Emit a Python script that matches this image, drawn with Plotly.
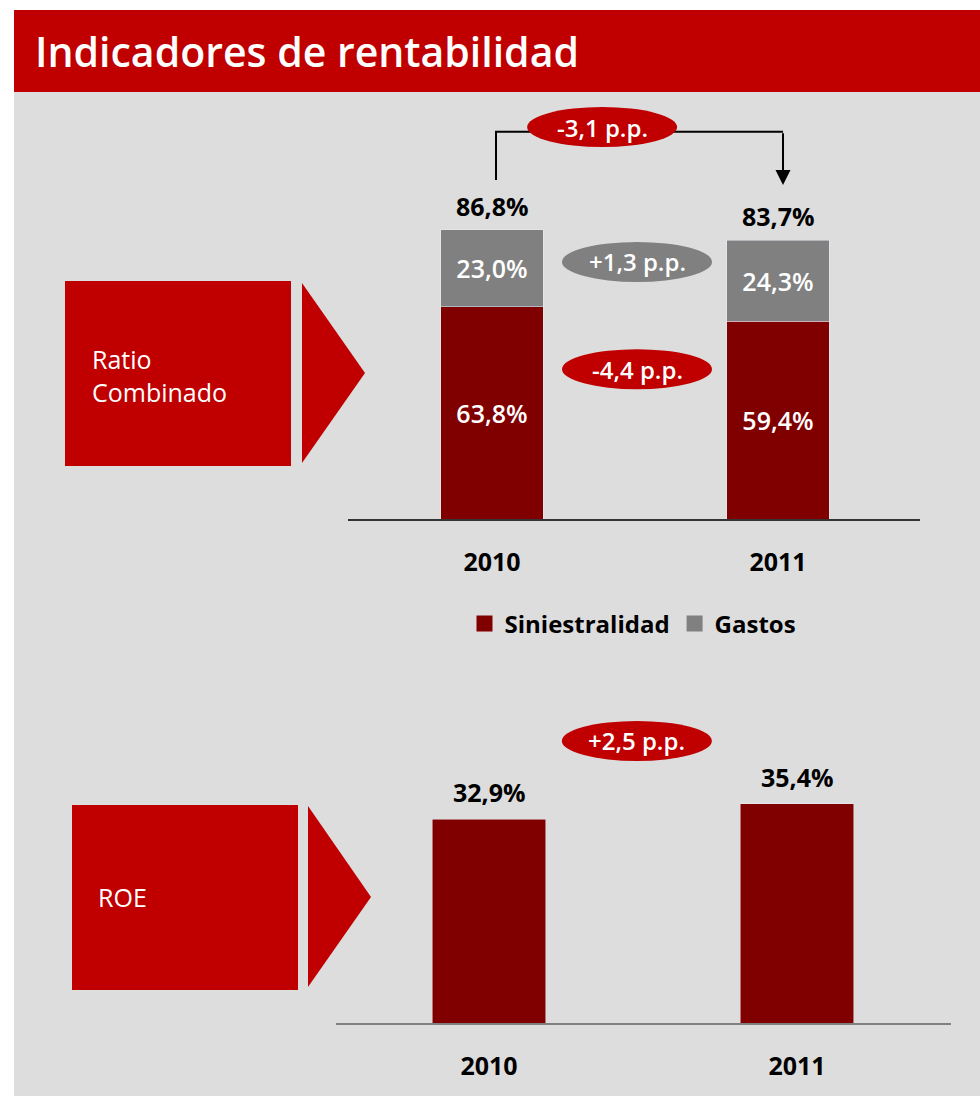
import plotly.graph_objects as go

# ---------------- data ----------------
years = ["2010", "2011"]
siniestralidad = [63.8, 59.4]
gastos = [23.0, 24.3]
roe = [32.9, 35.4]
series_names = ["Siniestralidad", "Gastos"]
title_text = "Indicadores de rentabilidad"
box_labels = ["Ratio<br>Combinado", "ROE"]

# ---------------- style ----------------
W, H = 980, 1096
RED = "#C00000"
DARK = "#800000"
GRAY = "#808080"
PANEL = "#DDDDDD"
FONT = "Open Sans"


def fmt(v, signed=False):
    s = f"{v:+.1f}" if signed else f"{v:.1f}"
    return s.replace(".", ",")


def px(x):
    return x / W


def py(y):
    return 1 - y / H


combined = [a + b for a, b in zip(siniestralidad, gastos)]
d_comb = combined[1] - combined[0]
d_gas = gastos[1] - gastos[0]
d_sin = siniestralidad[1] - siniestralidad[0]
d_roe = roe[1] - roe[0]

fig = go.Figure()

inner_font = dict(color="white", size=25, family=FONT, weight=600)

fig.add_bar(x=years, y=siniestralidad, name=series_names[0], marker_color=DARK,
            width=0.357, text=[fmt(v) + "%" for v in siniestralidad],
            textposition="inside", insidetextanchor="middle", textangle=0,
            textfont=inner_font, xaxis="x", yaxis="y", showlegend=False,
            hoverinfo="skip")
fig.add_bar(x=years, y=gastos, name=series_names[1], marker_color=GRAY,
            width=0.357, text=[fmt(v) + "%" for v in gastos],
            textposition="inside", insidetextanchor="middle", textangle=0,
            textfont=inner_font, xaxis="x", yaxis="y", showlegend=False,
            hoverinfo="skip")
fig.add_bar(x=years, y=roe, name="ROE", marker_color=DARK, width=0.37,
            xaxis="x2", yaxis="y2", showlegend=False, hoverinfo="skip")

# legend entries (square markers)
for nm, col in zip(series_names, [DARK, GRAY]):
    fig.add_scatter(x=[None], y=[None], mode="markers", name=nm,
                    marker=dict(symbol="square", size=16, color=col),
                    xaxis="x", yaxis="y", hoverinfo="skip")

shapes = [
    # panel + header
    dict(type="rect", xref="paper", yref="paper", x0=px(14), x1=1, y0=0, y1=py(92),
         fillcolor=PANEL, line_width=0, layer="below"),
    dict(type="rect", xref="paper", yref="paper", x0=px(14), x1=1, y0=py(92), y1=py(10),
         fillcolor=RED, line_width=0, layer="below"),
    # left boxes
    dict(type="rect", xref="paper", yref="paper", x0=px(65), x1=px(291), y0=py(466), y1=py(281),
         fillcolor=RED, line_width=0),
    dict(type="path", xref="paper", yref="paper",
         path=f"M{px(302)},{py(283)} L{px(365)},{py(373)} L{px(302)},{py(463)} Z",
         fillcolor=RED, line_width=0),
    dict(type="rect", xref="paper", yref="paper", x0=px(72), x1=px(298), y0=py(990), y1=py(805),
         fillcolor=RED, line_width=0),
    dict(type="path", xref="paper", yref="paper",
         path=f"M{px(308)},{py(806)} L{px(371)},{py(897)} L{px(308)},{py(987)} Z",
         fillcolor=RED, line_width=0),
]

# bracket between totals (data coordinates of axis 1)
xl, xr, ytop = 0.014, 1.0175, 116.3
shapes.append(dict(type="path", xref="x", yref="y",
                   path=f"M{xl},{combined[0] + 15} L{xl},{ytop} L{xr},{ytop}",
                   line=dict(color="black", width=2)))

# badges (ellipses)
badges = [
    ("x", "y", 0.385, 117.7, RED, fmt(d_comb) + " p.p."),
    ("x", "y", 0.507, 77.2, GRAY, fmt(d_gas, True) + " p.p."),
    ("x", "y", 0.507, 45.0, RED, fmt(d_sin) + " p.p."),
    ("x2", "y2", 0.48, 45.5, RED, fmt(d_roe, True) + " p.p."),
]
annotations = []
for xr_, yr_, xa, ya, col, txt in badges:
    shapes.append(dict(type="circle", xref=xr_, yref=yr_, xsizemode="pixel",
                       ysizemode="pixel", xanchor=xa, yanchor=ya, x0=-75, x1=75,
                       y0=-20, y1=20, fillcolor=col, line_width=0))
    annotations.append(dict(x=xa, y=ya, xref=xr_, yref=yr_, text=txt, showarrow=False,
                            font=dict(color="white", size=24, family=FONT, weight=600)))

# arrow down to 2011 total
annotations.append(dict(x=xr, y=combined[1] + 16.6, xref="x", yref="y", ax=xr, ay=ytop,
                        axref="x", ayref="y", text="", showarrow=True, arrowhead=2,
                        arrowsize=1.5, arrowwidth=2, arrowcolor="black", standoff=0))

# totals
lab_font = dict(color="black", size=25, family=FONT, weight="bold")
for i, v in enumerate(combined):
    annotations.append(dict(x=i, y=v, xref="x", yref="y", text=fmt(v) + "%",
                            showarrow=False, yanchor="bottom", yshift=5, font=lab_font))
for i, v in enumerate(roe):
    annotations.append(dict(x=i, y=v, xref="x2", yref="y2", text=fmt(v) + "%",
                            showarrow=False, yanchor="bottom", yshift=8, font=lab_font))

# title and box labels
annotations.append(dict(x=px(33), y=py(51), xref="paper", yref="paper", text=title_text,
                        showarrow=False, xanchor="left", yanchor="middle",
                        font=dict(color="white", size=41, family=FONT, weight=600)))
annotations.append(dict(x=px(90), y=py(375), xref="paper", yref="paper", text=box_labels[0],
                        showarrow=False, xanchor="left", yanchor="middle", align="left",
                        font=dict(color="white", size=25, family=FONT)))
annotations.append(dict(x=px(96), y=py(897), xref="paper", yref="paper", text=box_labels[1],
                        showarrow=False, xanchor="left", yanchor="middle", align="left",
                        font=dict(color="white", size=25, family=FONT)))

tick_font = dict(color="black", size=25, family=FONT, weight="bold")
fig.update_layout(
    width=W, height=H, margin=dict(l=0, r=0, t=0, b=0),
    paper_bgcolor="white", plot_bgcolor="rgba(0,0,0,0)",
    barmode="stack", showlegend=True,
    font=dict(family=FONT),
    legend=dict(orientation="h", x=px(633), y=py(624), xanchor="center", yanchor="middle",
                traceorder="normal",
                font=dict(color="black", size=24, family=FONT, weight="bold"),
                bgcolor="rgba(0,0,0,0)", itemclick=False, itemdoubleclick=False),
    xaxis=dict(domain=[px(348), px(920)], range=[-0.5035, 1.4965], type="category",
               anchor="y", showline=True, linecolor="#333333", linewidth=1.5,
               showgrid=False, zeroline=False, ticks="", tickfont=tick_font,
               ticklabelstandoff=20, fixedrange=True),
    yaxis=dict(domain=[py(519), py(100)], range=[0, 419 / 3.33], visible=False,
               fixedrange=True),
    xaxis2=dict(domain=[px(336), px(951)], range=[-0.4968, 1.5], type="category",
                anchor="y2", showline=True, linecolor="#7F7F7F", linewidth=2,
                showgrid=False, zeroline=False, ticks="", tickfont=tick_font,
                ticklabelstandoff=20, fixedrange=True),
    yaxis2=dict(domain=[py(1023), py(700)], range=[0, 323 / 6.2], visible=False,
                fixedrange=True),
    shapes=shapes, annotations=annotations,
)

fig.write_html("out.html", config={"displayModeBar": False},
               post_script="document.body.style.margin='0';")
